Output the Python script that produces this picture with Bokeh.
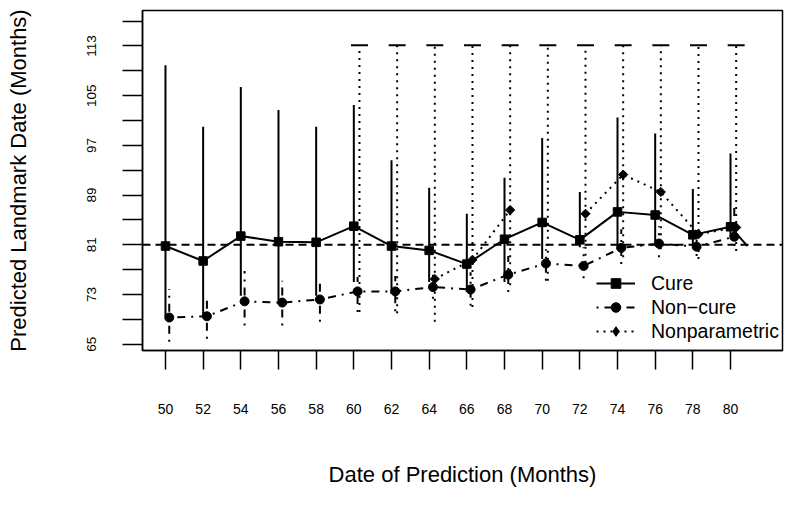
import math
from bokeh.plotting import figure
from bokeh.models import Range1d, FixedTicker, Span, Legend, LegendItem
from bokeh.embed import file_html
from bokeh.resources import INLINE

NAN = float("nan")

# ---- data ----
dates = [50, 52, 54, 56, 58, 60, 62, 64, 66, 68, 70, 72, 74, 76, 78, 80]
cure = [80.8, 78.4, 82.4, 81.5, 81.4, 84.0, 80.8, 80.1, 77.9, 81.9, 84.6, 81.8, 86.3, 85.8, 82.6, 83.9]
cure_lo = [69.5, 69.6, 72.8, 72.0, 72.8, 75.0, 73.1, 75.0, 73.4, 75.0, 78.7, 80.6, 80.3, 81.4, 80.8, 82.4]
cure_hi = [109.9, 100.0, 106.4, 102.7, 100.0, 103.5, 94.6, 90.2, 86.0, 91.8, 98.2, 89.5, 101.5, 98.9, 90.0, 95.7]

noncure = [69.3, 69.5, 71.9, 71.7, 72.2, 73.5, 73.5, 74.2, 73.8, 76.2, 78.0, 77.6, 80.5, 81.2, 80.7, 82.3]
noncure_lo = [65.4, 65.9, 68.0, 68.0, 68.6, 70.2, 70.3, 72.3, 71.2, 73.4, 75.2, 75.6, 77.9, 79.0, 79.2, 80.8]
noncure_hi = [73.9, 72.8, 76.8, 75.2, 75.5, 75.8, 76.0, 76.8, 76.6, 79.2, 80.3, 80.6, 83.5, 84.0, 83.0, 87.5]

np_dates = [60, 62, 64, 66, 68, 70, 72, 74, 76, 78, 80]
nonpar = [NAN, NAN, 75.5, 78.6, 86.6, NAN, 86.0, 92.3, 89.5, 82.7, 83.8]
nonpar_lo = [70.2, 70.0, 68.6, 71.0, 74.5, 75.2, 77.0, 79.0, 80.3, 78.7, 80.0]
nonpar_hi = [113.1, 113.1, 113.1, 113.1, 113.1, 113.1, 113.1, 113.1, 113.1, 113.1, 113.1]

# end point the cure curve runs into after the last prediction date
tail_date = [80.9]
tail_value = [80.8]

reference_value = 81
y_major = [65, 73, 81, 89, 97, 105, 113]
y_minor = [69, 77, 85, 93, 101, 109, 117]

# ---- styling helpers ----
NONCURE_SHIFT = 0.2
NONPAR_SHIFT = 0.3
CAP_HALF = 0.45
FONT = "Liberation Sans"

x_nc = [d + NONCURE_SHIFT for d in dates]
x_np = [d + NONPAR_SHIFT for d in np_dates]

p = figure(width=784, height=489,
           x_range=Range1d(48.78, 82.76), y_range=Range1d(63.99, 118.71),
           output_backend="svg", toolbar_location=None,
           min_border_left=142, min_border_right=2, min_border_top=10, min_border_bottom=137)
p.background_fill_color = "white"
p.border_fill_color = "white"
p.xgrid.visible = False
p.ygrid.visible = False
p.outline_line_color = "black"
p.outline_line_width = 1.5
p.outline_line_alpha = 1

# axes
xa = p.xaxis[0]
xa.ticker = FixedTicker(ticks=dates, minor_ticks=[])
xa.axis_label = "Date of Prediction (Months)"
xa.axis_label_text_font = FONT
xa.axis_label_text_font_size = "22px"
xa.axis_label_text_font_style = "normal"
xa.axis_label_text_color = "black"
xa.axis_label_standoff = 45
xa.major_label_text_font = FONT
xa.major_label_text_font_size = "14px"
xa.major_label_text_color = "black"
xa.major_label_standoff = 34
xa.major_tick_out = 19
xa.major_tick_in = 0
xa.major_tick_line_width = 1.5
xa.major_tick_line_color = "black"
xa.axis_line_width = 1.5
xa.axis_line_color = "black"

ya = p.yaxis[0]
ya.ticker = FixedTicker(ticks=y_major, minor_ticks=y_minor)
ya.axis_label = "Predicted Landmark Date (Months)"
ya.axis_label_text_font = FONT
ya.axis_label_text_font_size = "22px"
ya.axis_label_text_font_style = "normal"
ya.axis_label_text_color = "black"
ya.axis_label_standoff = 54
ya.major_label_text_font = FONT
ya.major_label_text_font_size = "13.5px"
ya.major_label_text_color = "black"
ya.major_label_orientation = "vertical"
ya.major_label_standoff = 26
ya.major_tick_out = 20
ya.major_tick_in = 0
ya.minor_tick_out = 20
ya.minor_tick_in = 0
ya.major_tick_line_width = 1.5
ya.minor_tick_line_width = 1.5
ya.major_tick_line_color = "black"
ya.minor_tick_line_color = "black"
ya.axis_line_width = 1.5
ya.axis_line_color = "black"

# reference line
p.add_layout(Span(location=reference_value, dimension="width", line_color="black",
                  line_width=2, line_dash="8 5"))

# error bars
p.segment(x0=dates, y0=cure_lo, x1=dates, y1=cure_hi, line_color="black", line_width=2)
p.segment(x0=x_nc, y0=noncure_lo, x1=x_nc, y1=noncure_hi, line_color="black",
          line_width=2, line_dash="2 6 8 6")
p.segment(x0=x_np, y0=nonpar_lo, x1=x_np, y1=nonpar_hi, line_color="black",
          line_width=2, line_dash="2 5")
p.segment(x0=[x - CAP_HALF for x in x_np], y0=nonpar_hi,
          x1=[x + CAP_HALF for x in x_np], y1=nonpar_hi,
          line_color="black", line_width=2)

# lines
cure_line = p.line(dates + tail_date, cure + tail_value, line_color="black", line_width=2)
nc_line = p.line(x_nc, noncure, line_color="black", line_width=2, line_dash="2 6 8 6")
np_line = p.line(x_np, nonpar, line_color="black", line_width=2, line_dash="2 5")

# markers
cure_pts = p.scatter(dates, cure, marker="square", size=8.5, fill_color="black", line_color="black")
nc_pts = p.scatter(x_nc, noncure, marker="circle", size=9, fill_color="black", line_color="black")
np_pts = p.scatter(x_np, nonpar, marker="square", angle=math.pi / 4, size=6.5,
                   fill_color="black", line_color="black")
# legend-only diamond key (legend glyphs ignore marker rotation); hidden in the plot
np_key = p.scatter(x_np, nonpar, marker="diamond", size=10, fill_color="black",
                   line_color="black", visible=False)

legend = Legend(items=[
    LegendItem(label="Cure", renderers=[cure_line, cure_pts]),
    LegendItem(label="Non\u2212cure", renderers=[nc_line, nc_pts]),
    LegendItem(label="Nonparametric", renderers=[np_line, np_key]),
], location=(454, 7))
legend.background_fill_alpha = 0
legend.border_line_alpha = 0
legend.inactive_fill_alpha = 0
legend.padding = 0
legend.margin = 0
legend.spacing = 0
legend.label_height = 24
legend.glyph_height = 24
legend.glyph_width = 39
legend.label_standoff = 16
legend.label_text_font = FONT
legend.label_text_font_size = "19.5px"
legend.label_text_color = "black"
p.add_layout(legend)

open("out.html", "w").write(file_html(p, INLINE))
